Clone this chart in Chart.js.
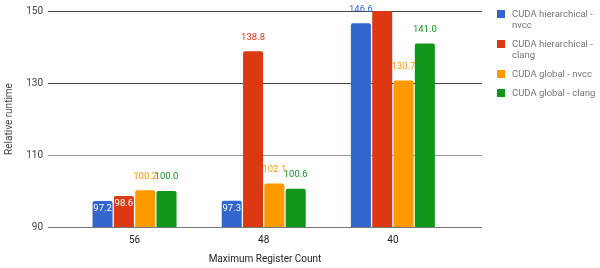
<!DOCTYPE html>
<html><head><meta charset="utf-8">
<script src="https://cdn.jsdelivr.net/npm/chart.js@4/dist/chart.umd.min.js"></script>
<style>
html,body{margin:0;padding:0;background:#fff;}
#wrap{position:relative;width:600px;height:268px;}
#legend{position:absolute;left:497px;top:8px;font-family:Roboto,sans-serif;font-size:9.5px;color:#757575;}
.item{display:flex;align-items:flex-start;margin-bottom:8px;line-height:11px}
.sw{width:8px;height:8px;margin-top:2px;margin-right:7px;flex:none}
.txt{width:85px}
</style></head>
<body><div id="wrap"><canvas id="c" width="600" height="268"></canvas><div id="legend"></div></div>
<script>
const categories = ['56', '48', '40'];
const seriesNames = ['CUDA hierarchical - nvcc', 'CUDA hierarchical - clang', 'CUDA global - nvcc', 'CUDA global - clang'];
const hierNvcc = [97.2, 97.3, 146.6];
const hierClang = [98.6, 138.8, 150.0];
const globNvcc = [100.2, 102.1, 130.7];
const globClang = [100.0, 100.6, 141.0];
const yTicks = [90, 110, 130, 150];
const colors = ['#3366cc', '#dc3912', '#ff9900', '#109618'];

const seriesValues = [hierNvcc, hierClang, globNvcc, globClang];

const legend = document.getElementById('legend');
seriesNames.forEach((n, i) => {
  const it = document.createElement('div'); it.className = 'item';
  const sw = document.createElement('div'); sw.className = 'sw'; sw.style.background = colors[i];
  const t = document.createElement('div'); t.className = 'txt'; t.textContent = n;
  it.appendChild(sw); it.appendChild(t); legend.appendChild(it);
});

const labelPlugin = {
  id: 'lbl',
  afterDatasetsDraw(chart) {
    const ctx = chart.ctx;
    ctx.save();
    ctx.font = '9.5px Roboto';
    ctx.textAlign = 'center';
    ctx.textBaseline = 'middle';
    chart.data.datasets.forEach((ds, di) => {
      const meta = chart.getDatasetMeta(di);
      meta.data.forEach((bar, i) => {
        const v = ds.data[i].y;
        if (v >= chart.scales.y.max) return;
        const inside = v < 100;
        ctx.fillStyle = inside ? '#ffffff' : ds.backgroundColor;
        ctx.fillText(v.toFixed(1), bar.x, inside ? bar.y + 8 : bar.y - 14);
      });
    });
    ctx.restore();
  }
};

new Chart(document.getElementById('c'), {
  type: 'bar',
  data: {
    datasets: seriesValues.map((vals, i) => ({
      label: seriesNames[i],
      data: vals.map((v, j) => ({ x: j, y: v })),
      backgroundColor: colors[i],
      borderRadius: { topLeft: 2, topRight: 2, bottomLeft: 0, bottomRight: 0 },
      borderSkipped: 'start',
      barPercentage: 0.94,
      categoryPercentage: 0.66
    }))
  },
  options: {
    responsive: false,
    animation: false,
    devicePixelRatio: 1,
    layout: { padding: { top: 7, right: 118, left: 0, bottom: 0 } },
    plugins: { legend: { display: false }, tooltip: { enabled: false } },
    scales: {
      x: {
        type: 'linear',
        offset: false,
        min: -0.67,
        max: 2.69,
        afterBuildTicks: s => { s.ticks = categories.map((c, i) => ({ value: i })); },
        afterFit: s => { s.height = 41; },
        grid: { display: false, drawTicks: false },
        border: { display: false },
        ticks: {
          padding: 7,
          font: { family: 'Roboto', size: 10 },
          color: '#222',
          autoSkip: false,
          maxRotation: 0,
          callback: v => categories[v] !== undefined ? categories[v] : ''
        },
        title: {
          display: true, text: 'Maximum Register Count',
          font: { family: 'Roboto', size: 10 }, color: '#222',
          padding: { top: 0, bottom: 3 }
        }
      },
      y: {
        min: 90,
        max: 150,
        afterBuildTicks: s => { s.ticks = yTicks.map(v => ({ value: v })); },
        afterFit: s => { s.width = 48; },
        grid: {
          drawTicks: false,
          color: c => (c.tick && c.tick.value >= 130) ? '#444' : (c.tick && c.tick.value === 90 ? '#777' : '#999'),
          lineWidth: 1
        },
        border: { display: false },
        ticks: {
          padding: 5,
          font: { family: 'Roboto', size: 10 },
          color: '#444'
        },
        title: {
          display: true, text: 'Relative runtime',
          font: { family: 'Roboto', size: 10 }, color: '#444',
          padding: { top: 3, bottom: 3 }
        }
      }
    }
  },
  plugins: [labelPlugin]
});
</script>
</body></html>
